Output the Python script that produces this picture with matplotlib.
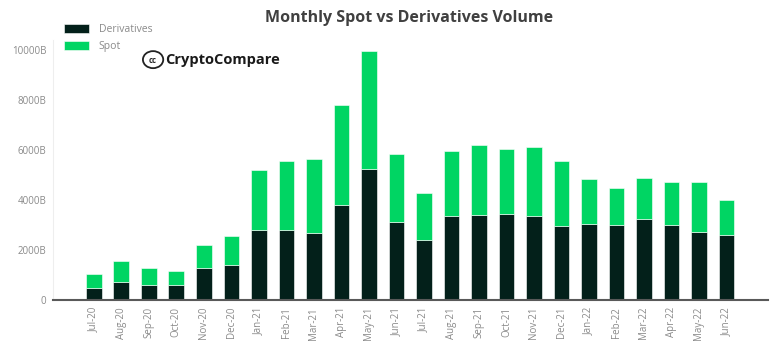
import matplotlib
matplotlib.use("Agg")
import matplotlib.pyplot as plt
from matplotlib.patches import Ellipse

plt.rcParams['font.family'] = ['Open Sans', 'DejaVu Sans']

months = ["Jul-20", "Aug-20", "Sep-20", "Oct-20", "Nov-20", "Dec-20",
          "Jan-21", "Feb-21", "Mar-21", "Apr-21", "May-21", "Jun-21",
          "Jul-21", "Aug-21", "Sep-21", "Oct-21", "Nov-21", "Dec-21",
          "Jan-22", "Feb-22", "Mar-22", "Apr-22", "May-22", "Jun-22"]
derivatives = [490, 730, 610, 600, 1280, 1390, 2810, 2810, 2670, 3800, 5240, 3110,
               2410, 3360, 3410, 3440, 3350, 2970, 3050, 3010, 3240, 3000, 2730, 2590]
total = [1030, 1570, 1290, 1170, 2190, 2550, 5190, 5550, 5640, 7800, 9980, 5830,
         4280, 5970, 6190, 6040, 6120, 5560, 4850, 4490, 4890, 4710, 4710, 3990]
spot = [t - d for t, d in zip(total, derivatives)]
yticks = [0, 2000, 4000, 6000, 8000, 10000]
ytick_labels = ["0", "2000B", "4000B", "6000B", "8000B", "10000B"]

dark = "#03201a"
green = "#00d563"
gray = "#8a8a8a"

fig = plt.figure(figsize=(7.81, 3.55), dpi=100)
ax = fig.add_axes([0.068, 0.155, 0.915, 0.732])
x = list(range(len(months)))
ax.bar(x, derivatives, width=0.57, color=dark, edgecolor="white", linewidth=0.4, label="Derivatives", zorder=2)
ax.bar(x, spot, bottom=derivatives, width=0.57, color=green, edgecolor="white", linewidth=0.4, label="Spot", zorder=2)

ax.set_xlim(-1.48, 24.5)
ax.set_ylim(0, 10400)
ax.set_yticks(yticks)
ax.set_yticklabels(ytick_labels, fontsize=7, color=gray)
ax.set_xticks(x)
ax.set_xticklabels(months, rotation=90, fontsize=7, color=gray)
ax.tick_params(axis='both', length=0, pad=5)
for s in ["top", "right"]:
    ax.spines[s].set_visible(False)
ax.spines["left"].set_color("#eeeeee")
ax.spines["left"].set_linewidth(0.8)
ax.spines["bottom"].set_color("#595959")
ax.spines["bottom"].set_linewidth(1.5)

fig.text(0.524, 0.949, "Monthly Spot vs Derivatives Volume", ha="center", va="center",
         fontsize=11.5, fontweight="bold", color="#404040")

leg = fig.legend(loc="upper left", bbox_to_anchor=(0.077, 0.944), frameon=False,
                 fontsize=7.5, handlelength=2.4, handleheight=0.9, labelspacing=0.6,
                 handletextpad=0.9, borderaxespad=0)
for t in leg.get_texts():
    t.set_color(gray)

# logo
fig.patches.append(Ellipse((0.196, 0.832), 0.026, 0.048, transform=fig.transFigure,
                           fill=False, edgecolor="#222222", linewidth=1.3))
fig.text(0.196, 0.830, "cc", ha="center", va="center", fontsize=5.5, fontweight="bold", color="#222222")
fig.text(0.212, 0.832, "CryptoCompare", ha="left", va="center", fontsize=10.5,
         fontweight="bold", color="#1a1a1a")

fig.savefig("out.png", dpi=100)
